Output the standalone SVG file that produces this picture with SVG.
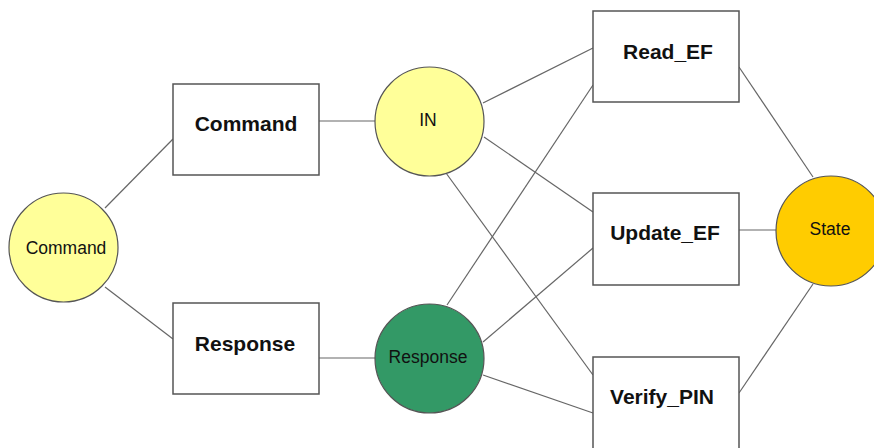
<svg xmlns="http://www.w3.org/2000/svg" width="874" height="448" viewBox="0 0 874 448">
<style>
.box{fill:#fff;stroke:#555;stroke-width:1.5}
.circ{stroke:#555;stroke-width:1.2}
.bt{font-family:"Liberation Sans",Arial,sans-serif;font-size:21px;font-weight:bold;fill:#111;text-anchor:middle}
.ct{font-family:"Liberation Sans",Arial,sans-serif;font-size:17.5px;fill:#111;text-anchor:middle}
.conn line{stroke:#666;stroke-width:1.2}
</style>
<rect width="874" height="448" fill="#fff"/>
<g id="connectors" class="conn">
<line x1="105" y1="208" x2="173" y2="139"/>
<line x1="105" y1="287" x2="173" y2="339"/>
<line x1="319" y1="121" x2="375" y2="121"/>
<line x1="319" y1="358" x2="375" y2="358"/>
<line x1="483" y1="103" x2="593" y2="48"/>
<line x1="484" y1="137" x2="593" y2="212"/>
<line x1="446" y1="173" x2="593" y2="375"/>
<line x1="447" y1="305" x2="593" y2="85"/>
<line x1="483" y1="342" x2="593" y2="248"/>
<line x1="483" y1="375" x2="593" y2="413"/>
<line x1="739" y1="67" x2="813" y2="177"/>
<line x1="739" y1="230" x2="776" y2="230"/>
<line x1="739" y1="393" x2="813" y2="284"/>
</g>
<g id="n-command-circle"><circle class="circ" cx="63.5" cy="247.5" r="54.5" fill="#FFFF99"/><text class="ct" x="66" y="254">Command</text></g>
<g id="n-command-box"><rect class="box" x="173" y="84" width="146" height="91"/><text class="bt" x="246" y="131">Command</text></g>
<g id="n-response-box"><rect class="box" x="173" y="303" width="146" height="91"/><text class="bt" x="245" y="351">Response</text></g>
<g id="n-in"><circle class="circ" cx="429.5" cy="121.5" r="54.5" fill="#FFFF99"/><text class="ct" x="428" y="126">IN</text></g>
<g id="n-response-circle"><circle class="circ" cx="429.5" cy="358.5" r="54.5" fill="#339966"/><text class="ct" x="428" y="363">Response</text></g>
<g id="n-read-ef"><rect class="box" x="593" y="11" width="146" height="91"/><text class="bt" x="668" y="59">Read_EF</text></g>
<g id="n-update-ef"><rect class="box" x="593" y="193" width="146" height="92"/><text class="bt" x="665" y="240">Update_EF</text></g>
<g id="n-verify-pin"><rect class="box" x="593" y="357" width="146" height="95"/><text class="bt" x="662" y="404">Verify_PIN</text></g>
<g id="n-state"><circle class="circ" cx="831" cy="231" r="55" fill="#FFCC00"/><text class="ct" x="830" y="235">State</text></g>
</svg>
